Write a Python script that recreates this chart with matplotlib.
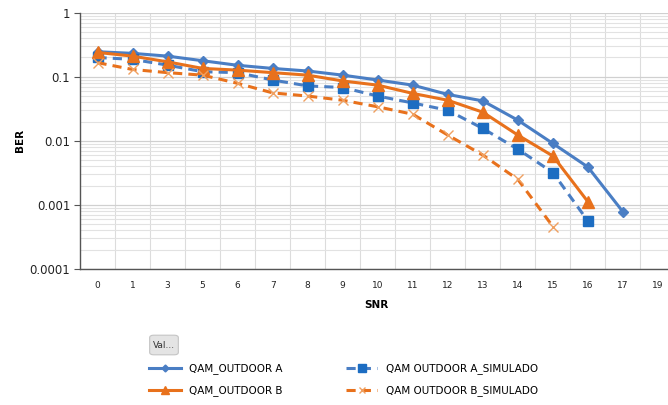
import numpy as np
import matplotlib
matplotlib.use("Agg")
import matplotlib.pyplot as plt
from matplotlib.patches import FancyBboxPatch

# SNR categories (uneven steps, plotted as categories)
snr = ["0", "1", "3", "5", "6", "7", "8", "9", "10", "11", "12", "13", "14", "15", "16", "17", "19"]

ber_a = [0.246, 0.232, 0.21, 0.178, 0.151, 0.135, 0.123, 0.106, 0.089, 0.074,
         0.053, 0.042, 0.021, 0.0091, 0.0039, 0.00078]
ber_b = [0.24, 0.21, 0.171, 0.135, 0.127, 0.116, 0.106, 0.086, 0.074, 0.055,
         0.043, 0.028, 0.0123, 0.0058, 0.00112]
ber_a_sim = [0.20, 0.187, 0.152, 0.12, 0.116, 0.089, 0.072, 0.068, 0.050, 0.039,
             0.030, 0.0156, 0.0074, 0.0032, 0.00056]
ber_b_sim = [0.166, 0.13, 0.116, 0.106, 0.079, 0.056, 0.050, 0.043, 0.034, 0.026,
             0.0123, 0.006, 0.0025, 0.00046]

BLUE = "#4a7ec4"
BLUE_SQ = "#1c6dc2"
ORANGE = "#e8711c"

fig = plt.figure(figsize=(6.68, 4.05), dpi=100)
W, H = 668.0, 405.0
ax = fig.add_axes([80 / W, 1 - 269 / H, (675.5 - 80) / W, (269 - 12.7) / H])

ax.set_yscale("log")
ax.set_ylim(0.0001, 1)
ax.set_xlim(-0.5, len(snr) - 0.5)

# grid: light lines between categories and at every log step
ax.set_xticks(np.arange(len(snr) - 1) + 0.5, minor=True)
ax.grid(True, which="minor", axis="x", color="#dcdcdc", lw=0.8)
ax.grid(True, which="major", axis="y", color="#d0d0d0", lw=0.9)
ax.grid(True, which="minor", axis="y", color="#e2e2e2", lw=0.8)
ax.set_axisbelow(True)

ax.plot(range(len(ber_a)), ber_a, color=BLUE, lw=2.2, marker="D", ms=5,
        mfc=BLUE, mec=BLUE, label="QAM_OUTDOOR A")
ax.plot(range(len(ber_a_sim)), ber_a_sim, color=BLUE, lw=2.2, ls=(0, (3, 2)),
        marker="s", ms=7.5, mfc=BLUE_SQ, mec=BLUE_SQ, label="QAM OUTDOOR A_SIMULADO")
ax.plot(range(len(ber_b)), ber_b, color=ORANGE, lw=2.2, marker="^", ms=8,
        mfc=ORANGE, mec=ORANGE, label="QAM_OUTDOOR B")
ax.plot(range(len(ber_b_sim)), ber_b_sim, color=ORANGE, lw=2.2, ls=(0, (3, 2)),
        marker="x", ms=7, mew=1.0, mec="#f0a060", label="QAM OUTDOOR B_SIMULADO")

ax.set_xticks(range(len(snr)))
ax.set_xticklabels(snr, fontsize=6.5, color="#222222")
ax.tick_params(axis="x", which="both", length=0, pad=9)
ax.set_yticks([0.0001, 0.001, 0.01, 0.1, 1])
ax.set_yticklabels(["0.0001", "0.001", "0.01", "0.1", "1"], fontsize=8.5, color="#222222")
ax.tick_params(axis="y", which="major", length=4, color="#555555", pad=3)
ax.tick_params(axis="y", which="minor", length=0)

for s in ["top", "right"]:
    ax.spines[s].set_visible(False)
for s in ["left", "bottom"]:
    ax.spines[s].set_color("#555555")
    ax.spines[s].set_linewidth(1.0)

fig.text(20 / W, 1 - 140 / H, "BER", rotation=90, fontsize=7.5, fontweight="bold",
         ha="center", va="center")
fig.text(376 / W, 1 - 305 / H, "SNR", fontsize=7.5, fontweight="bold",
         ha="center", va="center")

# "Val..." field button
btn = FancyBboxPatch((151 / W, 1 - 354 / H), 26 / W, 18 / H,
                     boxstyle="round,pad=0.002,rounding_size=0.006",
                     transform=fig.transFigure, fc="#e4e4e4", ec="#c4c4c4", lw=0.8)
fig.patches.append(btn)
fig.text(164 / W, 1 - 345 / H, "Val...", fontsize=6.5, ha="center", va="center",
         color="#333333")

handles, labels = ax.get_legend_handles_labels()
order = [0, 2, 1, 3]
leg = fig.legend([handles[i] for i in order], [labels[i] for i in order],
                 loc="upper left", bbox_to_anchor=(140 / W, 1 - 354 / H), ncol=2,
                 frameon=False, fontsize=7.5, handlelength=3.0, columnspacing=6.1,
                 labelspacing=1.05, handletextpad=0.8, markerscale=0.7)

fig.savefig("out.png", dpi=100)
